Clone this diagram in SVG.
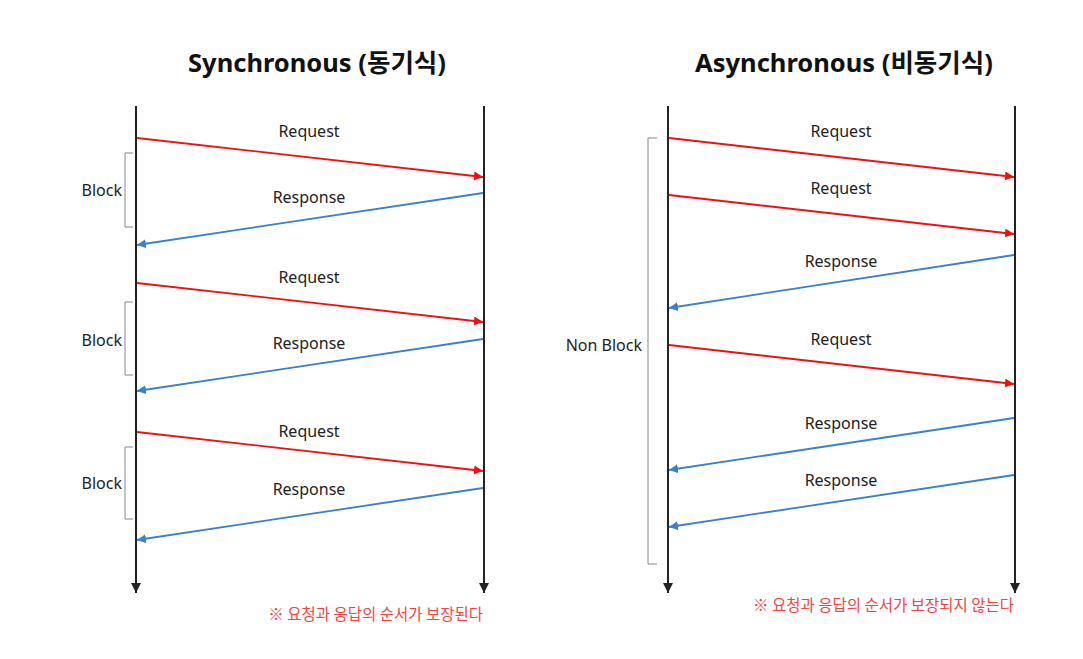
<svg xmlns="http://www.w3.org/2000/svg" width="1083" height="659" viewBox="0 0 1083 659">
<defs>
<style>
.title{font-family:"Noto Sans","Noto Sans CJK KR",sans-serif;font-weight:bold;font-size:25.5px;fill:#111;text-anchor:middle;dominant-baseline:central}
.lbl{font-family:"Noto Sans","Noto Sans CJK KR",sans-serif;font-size:16px;fill:#222;text-anchor:middle;dominant-baseline:central}
.side{font-family:"Noto Sans","Noto Sans CJK KR",sans-serif;font-size:16px;fill:#222;text-anchor:end;dominant-baseline:central}
.note{font-family:"Noto Sans CJK KR",sans-serif;font-size:15.5px;fill:#f04545;text-anchor:end;dominant-baseline:central}
.life{stroke:#222;stroke-width:2;fill:none}
.req{stroke:#f01010;stroke-width:1.8;fill:none}
.res{stroke:#3a80cc;stroke-width:1.8;fill:none}
.brk{stroke:#888;stroke-width:1;fill:none}
</style>
<marker id="ak" viewBox="0 0 10 10" refX="10" refY="5" markerWidth="5" markerHeight="5" markerUnits="strokeWidth" orient="auto"><path d="M0,0L10,5L0,10z" fill="#222"/></marker>
<marker id="ar" viewBox="0 0 10 10" refX="10" refY="5" markerWidth="5" markerHeight="5" markerUnits="strokeWidth" orient="auto"><path d="M0,0L10,5L0,10z" fill="#f01010"/></marker>
<marker id="ab" viewBox="0 0 10 10" refX="10" refY="5" markerWidth="5" markerHeight="5" markerUnits="strokeWidth" orient="auto"><path d="M0,0L10,5L0,10z" fill="#3a80cc"/></marker>
</defs>
<rect width="1083" height="659" fill="#fff"/>

<g id="sync-title"><text class="title" x="317" y="62">Synchronous (동기식)</text></g>
<g id="async-title"><text class="title" x="844" y="62">Asynchronous (비동기식)</text></g>

<g id="sync-client"><line class="life" x1="136" y1="106" x2="136" y2="593" marker-end="url(#ak)"/></g>
<g id="sync-server"><line class="life" x1="484" y1="106" x2="484" y2="593" marker-end="url(#ak)"/></g>
<g id="async-client"><line class="life" x1="668" y1="106" x2="668" y2="593" marker-end="url(#ak)"/></g>
<g id="async-server"><line class="life" x1="1015" y1="106" x2="1015" y2="593" marker-end="url(#ak)"/></g>

<g id="sync-blocks">
<path class="brk" d="M133,153H125V227H133"/>
<text class="side" x="122" y="190">Block</text>
<path class="brk" d="M133,302H125V375H133"/>
<text class="side" x="122" y="340">Block</text>
<path class="brk" d="M133,447H125V519H133"/>
<text class="side" x="122" y="483">Block</text>
</g>

<g id="async-block">
<path class="brk" d="M657,138H648V564H657"/>
<text class="side" x="642" y="345">Non Block</text>
</g>

<g id="connectors">
<line class="req" x1="137" y1="138" x2="483" y2="177" marker-end="url(#ar)"/>
<line class="res" x1="483" y1="193" x2="137" y2="245" marker-end="url(#ab)"/>
<line class="req" x1="137" y1="283" x2="483" y2="322" marker-end="url(#ar)"/>
<line class="res" x1="483" y1="339" x2="137" y2="391" marker-end="url(#ab)"/>
<line class="req" x1="137" y1="432" x2="483" y2="471" marker-end="url(#ar)"/>
<line class="res" x1="483" y1="488" x2="137" y2="540" marker-end="url(#ab)"/>

<line class="req" x1="669" y1="138" x2="1014" y2="177" marker-end="url(#ar)"/>
<line class="req" x1="669" y1="195" x2="1014" y2="234" marker-end="url(#ar)"/>
<line class="res" x1="1014" y1="255" x2="669" y2="308" marker-end="url(#ab)"/>
<line class="req" x1="669" y1="345" x2="1014" y2="384" marker-end="url(#ar)"/>
<line class="res" x1="1014" y1="418" x2="669" y2="470" marker-end="url(#ab)"/>
<line class="res" x1="1014" y1="475" x2="669" y2="527" marker-end="url(#ab)"/>
</g>

<g id="labels">
<text class="lbl" x="309" y="131">Request</text>
<text class="lbl" x="309" y="197">Response</text>
<text class="lbl" x="309" y="277">Request</text>
<text class="lbl" x="309" y="343">Response</text>
<text class="lbl" x="309" y="431">Request</text>
<text class="lbl" x="309" y="489">Response</text>
<text class="lbl" x="841" y="131">Request</text>
<text class="lbl" x="841" y="188">Request</text>
<text class="lbl" x="841" y="261">Response</text>
<text class="lbl" x="841" y="339">Request</text>
<text class="lbl" x="841" y="423">Response</text>
<text class="lbl" x="841" y="480">Response</text>
</g>

<g id="notes">
<text class="note" x="483" y="613">※ 요청과 응답의 순서가 보장된다</text>
<text class="note" x="1014" y="604">※ 요청과 응답의 순서가 보장되지 않는다</text>
</g>
</svg>
